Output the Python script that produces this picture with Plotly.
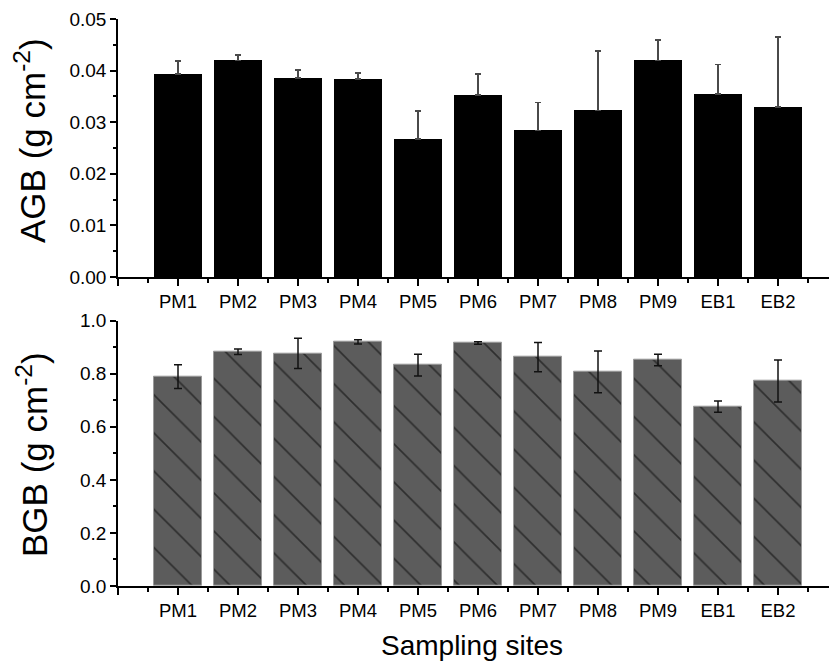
import plotly.graph_objects as go

W, H = 829, 662

sites = ["PM1", "PM2", "PM3", "PM4", "PM5", "PM6", "PM7", "PM8", "PM9", "EB1", "EB2"]
agb = [0.0393, 0.0420, 0.0386, 0.0384, 0.0267, 0.0353, 0.0284, 0.0323, 0.0420, 0.0355, 0.0329]
agb_err = [0.0026, 0.0010, 0.0015, 0.0011, 0.0055, 0.0040, 0.0054, 0.0115, 0.0039, 0.0057, 0.0136]
bgb = [0.789, 0.883, 0.877, 0.920, 0.833, 0.916, 0.863, 0.807, 0.852, 0.676, 0.773]
bgb_err = [0.045, 0.010, 0.057, 0.008, 0.041, 0.005, 0.055, 0.079, 0.022, 0.021, 0.079]

xpos = list(range(1, len(sites) + 1))
FONT = "Liberation Sans, Arial, sans-serif"

fig = go.Figure()
fig.add_trace(go.Bar(
    x=xpos, y=agb, width=0.81, xaxis="x", yaxis="y",
    marker=dict(color="#000000", line=dict(width=0)),
    error_y=dict(type="data", symmetric=False, array=agb_err,
                 arrayminus=[0] * len(agb), color="#4a4a4a", thickness=1.5, width=3),
    showlegend=False,
))
fig.add_trace(go.Bar(
    x=xpos, y=bgb, width=0.8, xaxis="x2", yaxis="y2",
    marker=dict(color="#5c5c5c", line=dict(width=1, color="#9a9a9a"),
                pattern=dict(shape="\\", fgcolor="#000000", bgcolor="#5c5c5c",
                             size=27, solidity=0.06)),
    error_y=dict(type="data", array=bgb_err, color="#111111", thickness=1.5, width=4),
    showlegend=False,
))

xl = 118 / W
top_dom = [1 - 277 / H, 1 - 19 / H]
bot_dom = [1 - 586 / H, 1 - 320.7 / H]

tickvals = list(range(0, len(sites) + 1))
ticktext = [""] + sites
minor_vals = [i + 0.5 for i in range(0, len(sites) + 1)]

def xaxis_cfg(anchor):
    return dict(domain=[xl, 1], range=[0, 11.85], anchor=anchor,
                tickvals=tickvals, ticktext=ticktext, ticks="outside", ticklen=7,
                tickwidth=1.5, tickcolor="black", showline=True, linecolor="black",
                linewidth=1.5, showgrid=False, zeroline=False, automargin=False,
                tickfont=dict(family=FONT, size=18.5, color="black"),
                minor=dict(tickvals=minor_vals, ticks="outside", ticklen=4,
                           tickwidth=1.5, tickcolor="black", showgrid=False))

def yaxis_cfg(anchor, dom, rng, dtick, fmt):
    return dict(domain=dom, range=rng, anchor=anchor, dtick=dtick, tick0=0,
                tickformat=fmt, ticks="outside", ticklen=6, tickwidth=1.5,
                tickcolor="black", showline=True, linecolor="black", linewidth=1.5,
                showgrid=False, zeroline=False, automargin=False,
                tickfont=dict(family=FONT, size=19, color="black"),
                minor=dict(dtick=dtick / 2, ticks="outside", ticklen=3,
                           tickwidth=1.5, tickcolor="black", showgrid=False))

fig.update_layout(
    width=W, height=H,
    margin=dict(l=0, r=0, t=0, b=0),
    paper_bgcolor="white", plot_bgcolor="white",
    bargap=0,
    xaxis=xaxis_cfg("y"),
    yaxis=yaxis_cfg("x", top_dom, [0, 0.05], 0.01, ".2f"),
    xaxis2=xaxis_cfg("y2"),
    yaxis2=yaxis_cfg("x2", bot_dom, [0, 1.0], 0.2, ".1f"),
    annotations=[
        dict(text="AGB (g cm<sup>-2</sup>)", textangle=-90, xref="paper", yref="paper",
             x=30 / W, y=1 - 141 / H, xanchor="center", yanchor="middle", showarrow=False,
             font=dict(family=FONT, size=35, color="black")),
        dict(text="BGB (g cm<sup>-2</sup>)", textangle=-90, xref="paper", yref="paper",
             x=32 / W, y=1 - 455 / H, xanchor="center", yanchor="middle", showarrow=False,
             font=dict(family=FONT, size=35, color="black")),
        dict(text="Sampling sites", xref="paper", yref="paper",
             x=472 / W, y=1 - 645 / H, xanchor="center", yanchor="middle", showarrow=False,
             font=dict(family=FONT, size=28, color="black")),
    ],
)

fig.write_html("out.html")
